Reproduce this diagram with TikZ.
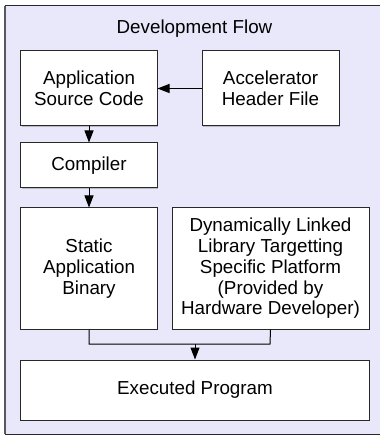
\documentclass[tikz,border=0pt]{standalone}
\usepackage{fontspec}
\setmainfont{Liberation Sans}
\usetikzlibrary{arrows.meta,shadows}
\definecolor{panel}{RGB}{232,232,250}
\definecolor{edge}{RGB}{40,40,40}
\begin{document}
\begin{tikzpicture}[x=1bp,y=-1bp,
  box/.style={draw=edge, line width=1bp, fill=white, align=center,
    font=\fontsize{18.8bp}{20.8bp}\selectfont, inner sep=0pt,
    drop shadow={shadow xshift=1.2bp, shadow yshift=-1.2bp, opacity=0.35, fill=black!60}},
  conn/.style={draw=black, line width=1bp},
  arr/.style={conn, -{Triangle[length=12bp,width=9bp]}}]
\useasboundingbox (0,0) rectangle (379,439);
% panel
\fill[panel] (5,6) rectangle (390,434);
\draw[gray!70!black, line width=1.5bp] (5,434) -- (5,6);
\draw[edge, line width=1bp] (5,6) -- (390,6);
\draw[edge, line width=1bp] (5,434) -- (390,434);
\node[font=\fontsize{18.8bp}{20.8bp}\selectfont, anchor=base] (title) at (194.5,33.3) {Development Flow};
% boxes
\node[box, minimum width=136bp, minimum height=75bp] (asc) at (89,88.5) {Application\\Source Code};
\node[box, minimum width=137bp, minimum height=75bp] (ahf) at (270.5,88.5) {Accelerator\\Header File};
\node[box, minimum width=136bp, minimum height=45bp] (comp) at (89,165.5) {Compiler};
\node[box, minimum width=136bp, minimum height=121bp] (sab) at (89,268.5) {Static\\Application\\Binary};
\node[box, minimum width=197bp, minimum height=121bp] (dll) at (270.5,268.5) {Dynamically Linked\\Library Targetting\\Specific Platform\\(Provided by\\Hardware Developer)};
\node[box, minimum width=348bp, minimum height=60bp] (exe) at (195,390) {Executed Program};
% connectors
\draw[arr] (ahf.west) -- (asc.east);
\draw[arr] (asc.south) -- (comp.north);
\draw[arr] (comp.south) -- (sab.north);
\coordinate (j1) at (89,344);
\coordinate (j2) at (270,344);
\coordinate (jm) at (195,344);
\draw[conn] (sab.south) -- (j1) -- (j2) -- (dll.south);
\draw[arr] (jm) -- (exe.north);
\end{tikzpicture}
\end{document}
